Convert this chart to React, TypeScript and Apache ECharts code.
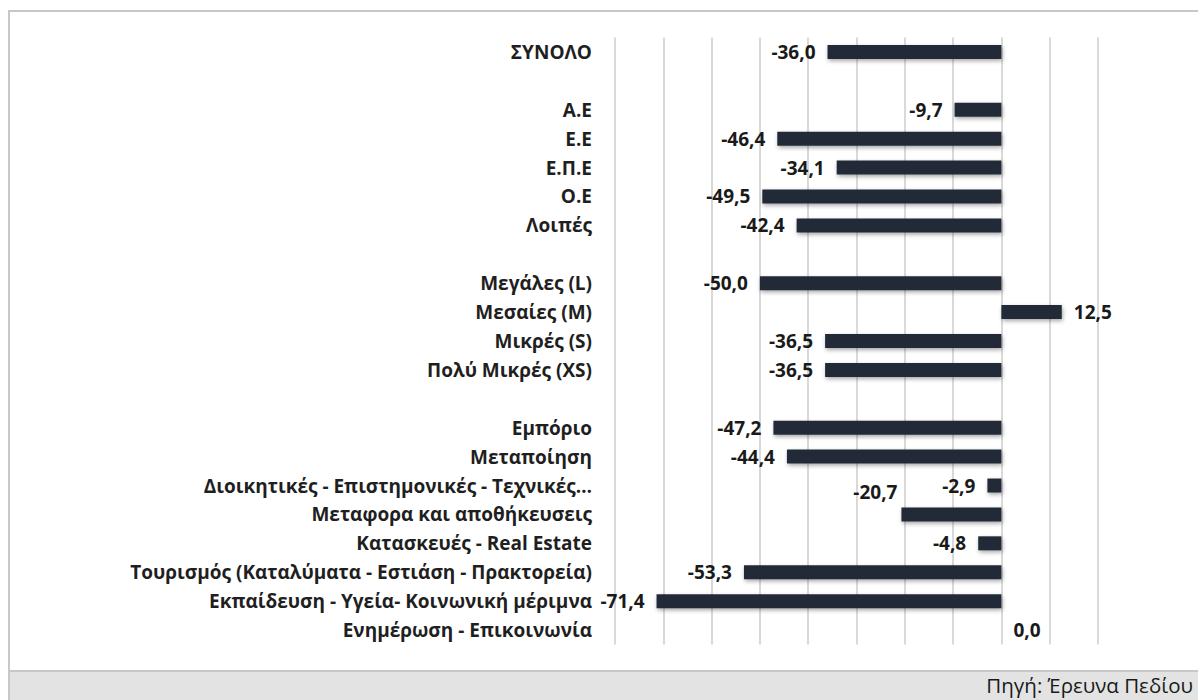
import React, { useEffect, useRef } from "react";
import * as echarts from "echarts";

const categories: string[] = [
  "ΣΥΝΟΛΟ",
  "",
  "Α.Ε",
  "Ε.Ε",
  "Ε.Π.Ε",
  "Ο.Ε",
  "Λοιπές",
  " ",
  "Μεγάλες (L)",
  "Μεσαίες (M)",
  "Μικρές (S)",
  "Πολύ Μικρές (XS)",
  "  ",
  "Εμπόριο",
  "Μεταποίηση",
  "Διοικητικές - Επιστημονικές - Τεχνικές…",
  "Μεταφορα και αποθήκευσεις",
  "Κατασκευές - Real Estate",
  "Τουρισμός (Καταλύματα - Εστιάση - Πρακτορεία)",
  "Εκπαίδευση - Υγεία- Κοινωνική μέριμνα",
  "Ενημέρωση - Επικοινωνία",
];

const values: (number | null)[] = [
  -36.0, null, -9.7, -46.4, -34.1, -49.5, -42.4, null, -50.0, 12.5, -36.5, -36.5,
  null, -47.2, -44.4, -2.9, -20.7, -4.8, -53.3, -71.4, 0.0,
];

const sourceText = "Πηγή: Έρευνα Πεδίου";
const FONT = "'Open Sans', 'Noto Sans', sans-serif";

export default function App() {
  const ref = useRef<HTMLDivElement>(null);
  useEffect(() => {
    if (!ref.current) return;
    const chart = echarts.init(ref.current, undefined, { renderer: "svg" });
    const data = values.map((v, i) => {
      if (v === null) return { value: null };
      const label: any = { position: v < 0 ? "left" : "right" };
      if (categories[i].startsWith("Μεταφορα")) {
        label.offset = [8, -22];
      }
      return { value: v, label };
    });
    chart.setOption({
      animation: false,
      grid: { left: 615, right: 100, top: 37.5, bottom: 55.5 },
      xAxis: {
        type: "value",
        min: -80,
        max: 20,
        interval: 10,
        axisLabel: { show: false },
        axisLine: { show: false },
        axisTick: { show: false },
        splitLine: { show: true, lineStyle: { color: "#d9d9d9", width: 2 } },
      },
      yAxis: {
        type: "category",
        inverse: true,
        data: categories,
        axisLine: { show: false, onZero: false },
        axisTick: { show: false },
        axisLabel: {
          margin: 23,
          fontFamily: FONT,
          fontWeight: "bold",
          fontSize: 19,
          color: "#1f1f1f",
        },
      },
      series: [
        {
          type: "bar",
          data,
          barWidth: 14,
          itemStyle: {
            color: "#242b37",
            shadowColor: "rgba(0,0,0,0.35)",
            shadowBlur: 4,
            shadowOffsetY: 2,
            shadowOffsetX: 1,
          },
          label: {
            show: true,
            distance: 12,
            fontFamily: FONT,
            fontWeight: "bold",
            fontSize: 19,
            color: "#1a1a1a",
            formatter: (p: any) => Number(p.value).toFixed(1).replace(".", ","),
          },
        },
      ],
      graphic: [
        {
          type: "rect",
          shape: { x: 9, y: 670, width: 1189, height: 30 },
          style: { fill: "#e3e3e3" },
          silent: true,
        },
        {
          type: "line",
          shape: { x1: 9, y1: 671, x2: 1198, y2: 671 },
          style: { stroke: "#c8c8c8", lineWidth: 2 },
          silent: true,
        },
        {
          type: "line",
          shape: { x1: 9, y1: 11, x2: 1198, y2: 11 },
          style: { stroke: "#c8c8c8", lineWidth: 2 },
          silent: true,
        },
        {
          type: "line",
          shape: { x1: 9, y1: 10, x2: 9, y2: 700 },
          style: { stroke: "#c8c8c8", lineWidth: 2 },
          silent: true,
        },
        {
          type: "text",
          x: 1193,
          y: 685,
          style: {
            text: sourceText,
            align: "right",
            verticalAlign: "middle",
            fontFamily: FONT,
            fontSize: 20.5,
            fill: "#1a1a1a",
          },
          silent: true,
        },
      ],
    });
    return () => chart.dispose();
  }, []);
  return (
    <div
      ref={ref}
      style={{ position: "fixed", left: 0, top: 0, width: 1198, height: 700, background: "#fff" }}
    />
  );
}
